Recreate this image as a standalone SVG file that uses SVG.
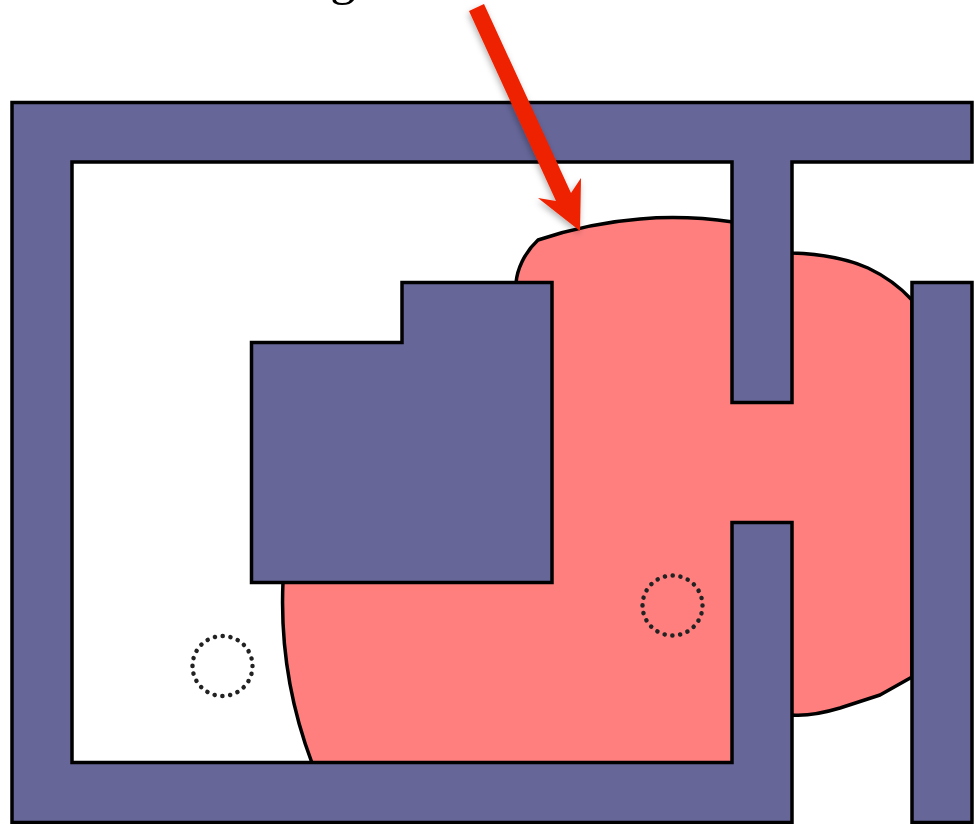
<svg xmlns="http://www.w3.org/2000/svg" width="977" height="824" viewBox="0 0 977 824">
  <style>
    .wall { fill: #666699; stroke: #000; stroke-width: 3.500; stroke-linejoin: miter; }
    .blob { fill: #ff7f7f; stroke: #000; stroke-width: 3.500; stroke-linejoin: round; }
    .probe { fill: none; stroke: #222; stroke-width: 4.500; stroke-linecap: round; stroke-dasharray: 0.1 7.75; }
  </style>
  <defs>
    <filter id="shadow" x="-20%" y="-20%" width="140%" height="140%">
      <feDropShadow dx="-1" dy="3" stdDeviation="3" flood-color="#000" flood-opacity="0.3"/>
    </filter>
  </defs>
  <rect width="977" height="824" fill="#fff"/>
  <text x="330" y="-6" font-family="'Liberation Serif', serif" font-size="52" fill="#000">g</text>
  <g id="region">
    <path class="blob" d="M516 283 C517 270 524 253 538 240 C565 231 600 222 640 219 C675 216 705 218 733 222 L792 253 C825 254 850 260 868 268 C885 276 900 287 912 300 L912 677 L880 695 L840 708 C820 714 805 716 792 715 L733 763 L312 763 C292 710 280 650 283 582 Z"/>
  </g>
  <g id="walls">
    <path class="wall" d="M12 102.500 H972 V162 H792 V402.500 H732 V162 H72 V762.500 H732 V522.500 H792 V822.500 H12 Z"/>
    <rect class="wall" x="912" y="282.500" width="60" height="540"/>
  </g>
  <g id="block">
    <path class="wall" d="M402 282.500 H552 V582.500 H251.500 V342.500 H402 Z"/>
  </g>
  <g id="probe-left"><circle class="probe" cx="222.500" cy="666" r="30"/></g>
  <g id="probe-right"><circle class="probe" cx="672.500" cy="605.500" r="30"/></g>
  <g id="connectors">
    <polygon points="469,11 484,4 571,193 581,178 580,231 538,198 556,201" fill="#ee2200" filter="url(#shadow)"/>
  </g>
</svg>
